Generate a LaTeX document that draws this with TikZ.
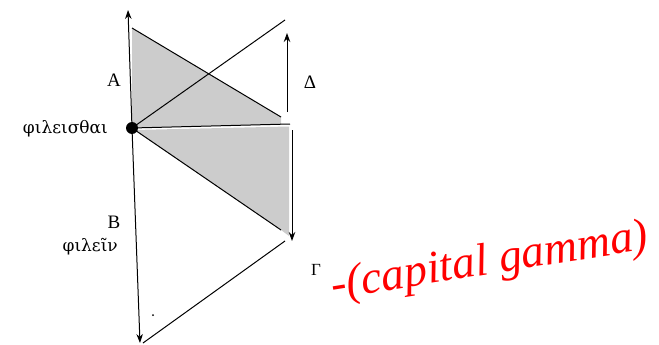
\documentclass[tikz,border=0pt]{standalone}
\usepackage{fontspec}
\setmainfont{Liberation Serif}
\newfontfamily\grk{DejaVu Serif}
\usetikzlibrary{arrows.meta}
\begin{document}
\begin{tikzpicture}[x=1pt,y=-1pt,
  ln/.style={line width=1pt,black},
  arr/.style={ln,-{Stealth[length=9pt,width=6.5pt]}},
  lbl/.style={font=\fontsize{19}{21}\selectfont,inner sep=0pt},
  glbl/.style={font=\grk\fontsize{17}{19}\selectfont,inner sep=0pt},
  hand/.style={inner sep=0pt,text=red,rotate=9,font=\fontsize{46}{48}\selectfont\itshape},
  shade/.style={fill=gray!40,draw=none}]
\useasboundingbox (0,0) rectangle (659,345);
% coordinates
\coordinate (O) at (132,128);
\coordinate (Atop) at (128,10);
\coordinate (Bbot) at (140,343);
\coordinate (T1) at (132,28);
\coordinate (T2) at (281,117);
\coordinate (X) at (285,20);
\coordinate (H) at (290,124);
\coordinate (L2) at (281,230);
\coordinate (Dlo) at (287,112);
\coordinate (Dhi) at (287,33);
\coordinate (Rhi) at (292,130);
\coordinate (Rlo) at (292,241);
\coordinate (G1) at (285,241);
\coordinate (G2) at (143,343);
% shading
\fill[shade] (T1) -- (T2) -- (281,124.5) -- (O) -- cycle;
\fill[shade] (134,130) -- (289,126.5) -- (289,236) -- (L2) -- cycle;
% lines
\draw[arr] (O) -- (Atop);
\draw[arr] (O) -- (Bbot);
\draw[ln] (T1) -- (T2);
\draw[ln] (O) -- (X);
\draw[ln] (O) -- (H);
\draw[ln] (O) -- (L2);
\draw[arr] (Dlo) -- (Dhi);
\draw[arr] (Rhi) -- (Rlo);
\draw[ln] (G1) -- (G2);
\node[circle,fill=black,minimum size=12pt,inner sep=0pt] (dot) at (O) {};
\fill (153,315) circle (1pt);
% labels
\node[lbl] (la) at (114,80) {Α};
\node[lbl] (ld) at (310,82) {Δ};
\node[glbl,anchor=east] (lf) at (108,129) {φιλεισθαι};
\node[lbl] (lb) at (114,222) {Β};
\node[glbl,anchor=east] (lfn) at (118,247) {φιλεῖν};
\node[font=\fontsize{17}{19}\selectfont,inner sep=0pt] (lg) at (316,270) {Γ};
\node[hand] (red) at (490,263) {-(capital gamma)};
\end{tikzpicture}
\end{document}
